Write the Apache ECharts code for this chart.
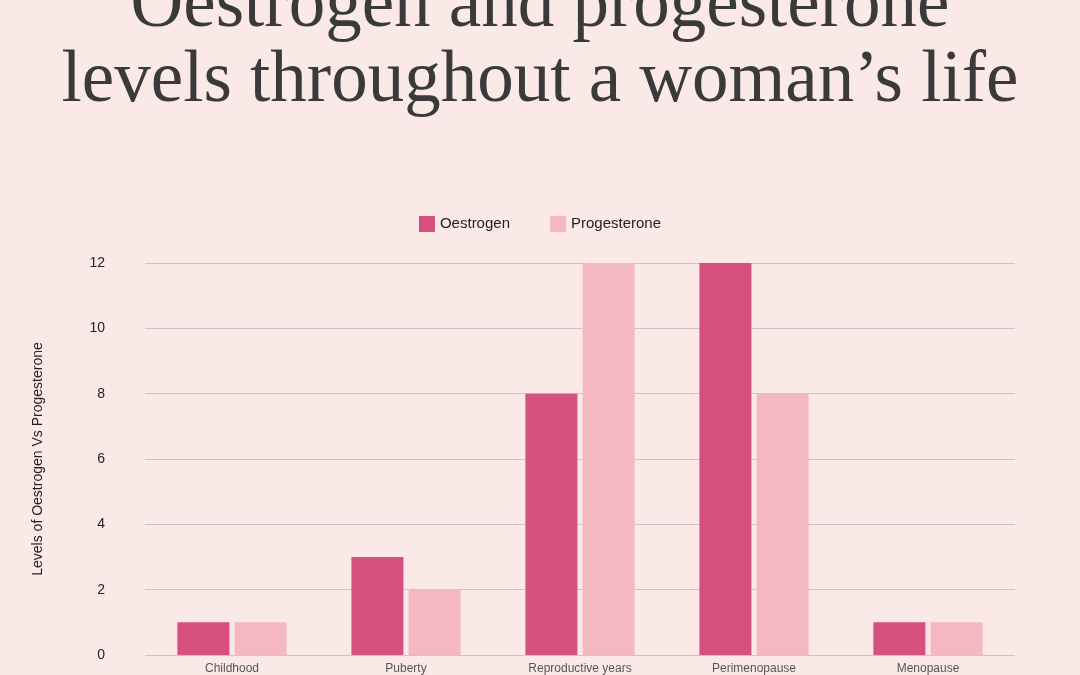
<!DOCTYPE html><html><head><meta charset="utf-8">
<script src="https://cdn.jsdelivr.net/npm/echarts@6/dist/echarts.min.js"></script>
<style>html,body{margin:0;background:#fbe9e8}#c{width:1080px;height:675px}</style></head><body><div id="c"></div><script>
const categories=['Childhood','Puberty','Reproductive years','Perimenopause','Menopause'];
const oestrogen=[1,3,8,12,1];
const progesterone=[1,2,12,8,1];
const yTicks=[0,2,4,6,8,10,12];
const ch=echarts.init(document.getElementById('c'));
ch.setOption({backgroundColor:'#fbe9e8',animation:false,
title:{text:'Oestrogen and progesterone\nlevels throughout a woman\u2019s life',left:'center',top:-36,
textStyle:{fontFamily:'Liberation Serif',fontSize:73,fontWeight:'normal',color:'#3a3a3a',lineHeight:75}},
legend:{top:211,left:'center',itemWidth:16,itemHeight:16,itemGap:40,icon:'rect',textStyle:{fontFamily:'Liberation Sans',fontSize:15,color:'#222'}},
grid:{left:145,right:65,top:263,height:528,containLabel:false},
xAxis:{type:'category',data:categories,axisTick:{show:false},axisLine:{show:false}},
yAxis:{type:'value',min:0,max:12,interval:2,name:'Levels of Oestrogen Vs Progesterone',nameLocation:'middle',nameGap:100,
nameTextStyle:{fontFamily:'Liberation Sans',fontSize:14,color:'#222'},
axisLabel:{margin:40,fontFamily:'Liberation Sans',fontSize:14,color:'#222',formatter:v=>yTicks.includes(v)?v:''},
splitLine:{lineStyle:{color:'#cfc4c4'}}},
series:[{name:'Oestrogen',type:'bar',data:oestrogen,itemStyle:{color:'#d64f7f'},barWidth:52,barGap:'10%'},
{name:'Progesterone',type:'bar',data:progesterone,itemStyle:{color:'#f5b8c0'},barWidth:52}]});
</script></body></html>
